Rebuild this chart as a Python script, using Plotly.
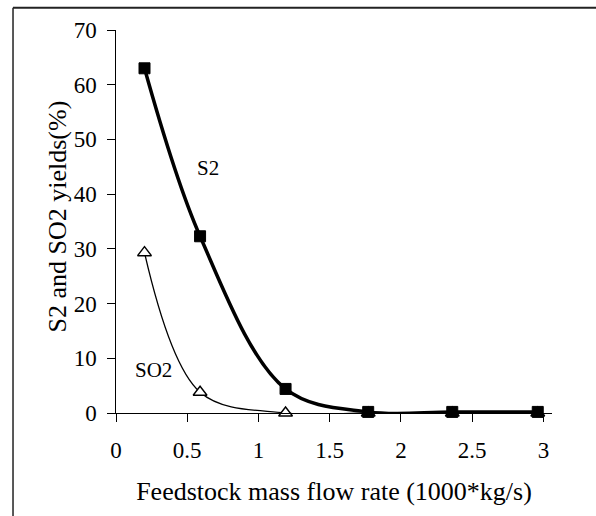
import plotly.graph_objects as go

flow_rate = [0.2, 0.59, 1.19, 1.77, 2.36, 2.96]
s2_yield = [63.0, 32.3, 4.4, 0.2, 0.2, 0.2]
so2_yield = [29.3, 3.8, 0.0, 0.0, 0.0, 0.0]
x_ticks = [0, 0.5, 1, 1.5, 2, 2.5, 3]
x_tick_labels = ["0", "0.5", "1", "1.5", "2", "2.5", "3"]
y_ticks = [0, 10, 20, 30, 40, 50, 60, 70]
y_tick_labels = ["0", "10", "20", "30", "40", "50", "60", "70"]

FONT = "Liberation Serif, Times New Roman, serif"

fig = go.Figure()
fig.add_trace(go.Scatter(
    x=flow_rate, y=so2_yield, mode="lines+markers", name="SO2",
    line=dict(color="black", width=1.3, shape="spline", smoothing=1.0),
    marker=dict(symbol="triangle-up", size=12, color="white",
                line=dict(color="black", width=1.4)),
    cliponaxis=False,
))
fig.add_trace(go.Scatter(
    x=flow_rate, y=s2_yield, mode="lines+markers", name="S2",
    line=dict(color="black", width=3.5, shape="spline", smoothing=1.0),
    marker=dict(symbol="square", size=11, color="black",
                line=dict(color="black", width=1)),
    cliponaxis=False,
))

fig.add_annotation(x=0.643, y=44.8, text="S2", showarrow=False,
                   font=dict(family=FONT, size=21, color="black"))
fig.add_annotation(x=0.264, y=7.8, text="SO2", showarrow=False,
                   font=dict(family=FONT, size=21, color="black"))

# y-axis title as rotated annotation
fig.add_annotation(xref="paper", yref="paper", x=-0.134, y=0.512,
                   text="S2 and SO2 yields(%)", textangle=-90, showarrow=False,
                   xanchor="center", yanchor="middle",
                   font=dict(family=FONT, size=26, color="black"))

# outer frame (left and top edges)
fig.add_shape(type="line", xref="paper", yref="paper",
              x0=-0.2362, y0=1.058, x1=1.2, y1=1.058,
              line=dict(color="#222", width=2))
fig.add_shape(type="line", xref="paper", yref="paper",
              x0=-0.2362, y0=1.058, x1=-0.2362, y1=-0.4,
              line=dict(color="#222", width=1.5))

fig.update_layout(
    width=596, height=516,
    margin=dict(l=116, r=44, t=30, b=103),
    paper_bgcolor="white", plot_bgcolor="white",
    showlegend=False,
    font=dict(family=FONT, size=23, color="black"),
    xaxis=dict(
        range=[0, 3.06], tickvals=x_ticks, ticktext=x_tick_labels,
        showline=True, linecolor="black", linewidth=1,
        ticks="outside", ticklen=8, tickcolor="black",
        showgrid=False, zeroline=False, automargin=False,
        ticklabelstandoff=8,
        title=dict(text="Feedstock mass flow rate (1000*kg/s)",
                   font=dict(size=26), standoff=20),
        tickfont=dict(size=23),
    ),
    yaxis=dict(
        range=[0, 70], tickvals=y_ticks,
        ticktext=[t + "\u00a0" for t in y_tick_labels],
        showline=True, linecolor="black", linewidth=1,
        ticks="outside", ticklen=8, tickcolor="black",
        showgrid=False, zeroline=False, automargin=False,
        tickfont=dict(size=23),
    ),
)

fig.write_html(
    "out.html",
    config={"displayModeBar": False},
    post_script="document.body.style.margin='0';document.body.style.overflow='hidden';",
)
